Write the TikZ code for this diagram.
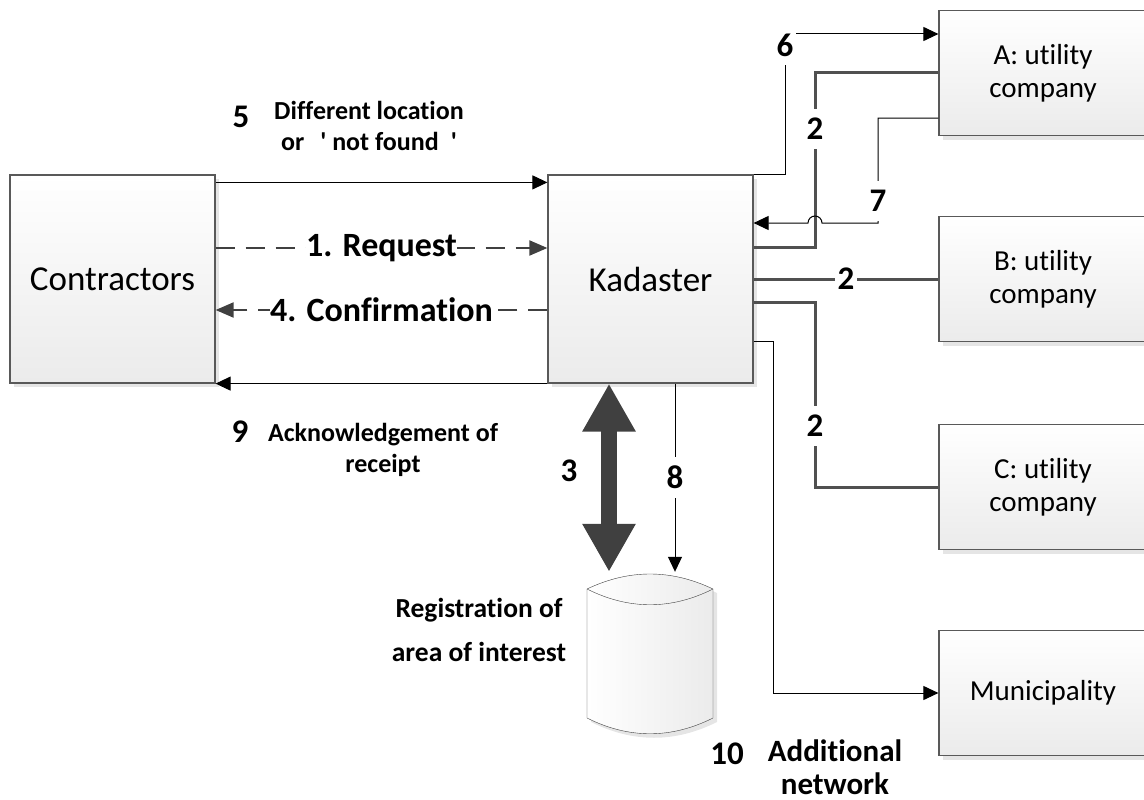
\documentclass[tikz,border=0pt]{standalone}
\usepackage{fontspec}
\setmainfont{Carlito}[Ligatures=NoCommon]
\usetikzlibrary{arrows.meta,shadows,positioning}
\definecolor{boxline}{HTML}{595959}
\definecolor{boxshade}{HTML}{EBEBEB}
\definecolor{linkgray}{HTML}{404040}
\definecolor{feedgray}{HTML}{505050}

\begin{document}
\begin{tikzpicture}[x=1pt,y=-1pt,
 box/.style={draw=boxline,line width=1.2pt,top color=white,bottom color=boxshade,
  drop shadow={shadow xshift=4pt,shadow yshift=-4pt,fill=black!10,opacity=1},align=center,inner sep=2pt},
 party/.style={box,minimum width=205pt,minimum height=208pt,font=\fontsize{35}{40}\selectfont},
 utility/.style={box,minimum width=208pt,minimum height=125pt,font=\fontsize{29}{33}\selectfont},
 num/.style={font=\bfseries\fontsize{33}{36}\selectfont,fill=white,inner xsep=3pt,inner ysep=9pt},
 note/.style={font=\bfseries\fontsize{26}{31}\selectfont,align=center},
 msglabel/.style={font=\bfseries\fontsize{34}{38}\selectfont,fill=white,inner sep=0.5pt},
 flow/.style={draw=black,line width=1pt,-{Triangle[length=15pt,width=14pt]}},
 msg/.style={draw=linkgray,line width=2pt,dash pattern=on 19pt off 11pt,-{Triangle[length=18pt,width=15pt]}},
 feed/.style={draw=feedgray,line width=3pt}]
\useasboundingbox (0,0) rectangle (1144,800);
\clip (0,0) rectangle (1144,800);
% parties
\node[party] (contractors) at (112.5,279) {Contractors};
\node[party] (kadaster) at (650.5,279) {Kadaster};
\node[utility] (compA) at (1043,73) {A: utility\\company};
\node[utility] (compB) at (1043,279) {B: utility\\company};
\node[utility] (compC) at (1043,487) {C: utility\\company};
\node[utility] (muni) at (1043,693) {Municipality};
% register of areas
\node[minimum width=126pt,minimum height=160pt,inner sep=0pt] (db) at (650,654) {};
\fill[black!10,shift={(4,4)}] (587,589) .. controls (629,569) and (671,569) .. (713,589) -- (713,718)
 .. controls (671,739) and (629,739) .. (587,718) -- cycle;
\path[draw=linkgray,left color=white,right color=boxshade] (587,589) .. controls (629,569) and (671,569) .. (713,589)
 -- (713,718) .. controls (671,739) and (629,739) .. (587,718) -- cycle;
\draw[linkgray] (587,589) .. controls (629,610) and (671,610) .. (713,589);
% labels
\node[num,fill=none] (n5) at (241,117) {5};
\node[note] (t5) at (369,126) {Different location\\or\hspace{16pt}\textquotesingle\ not found\hspace{12pt}\textquotesingle};
\node[num,fill=none] (n9) at (240,432) {9};
\node[note] (t9) at (383,450) {Acknowledgement of\\receipt};
\node[font=\bfseries\fontsize{27.5}{44}\selectfont,align=center] (treg) at (479,630) {Registration of\\area of interest};
\node[num,fill=none] (n10) at (727,754) {10};
\node[num,fill=none] (n3) at (569,471) {3};
\node[font=\bfseries\fontsize{31}{33}\selectfont,align=center] (t10) at (835,767) {Additional\\network};
% contractors and kadaster
\draw[flow] ([yshift=-8pt]contractors.north east) -- ([yshift=-8pt]kadaster.north west);
\draw[msg] ([yshift=31pt]contractors.east) -- node[msglabel]{1. Request} ([yshift=31pt]kadaster.west);
\draw[msg] ([yshift=-31pt]kadaster.west) -- node[msglabel]{4. Confirmation} ([yshift=-31pt]contractors.east);
\draw[flow] (kadaster.south west) -- (contractors.south east);
% kadaster and companies
\draw[flow] (kadaster.north east) -| (785,34) node[num,yshift=-11pt]{6} -- ([yshift=39pt]compA.west);
\draw[feed] ([yshift=32pt]kadaster.east) -| node[num,pos=0.84]{2} (815,73) -- (compA.west);
\draw[flow] ([yshift=-45pt]compA.west) -| (878,223) node[num,yshift=22pt]{7} -- (822,223)
 arc[start angle=0,end angle=180,radius=7pt] -- ([yshift=56pt]kadaster.east);
\draw[feed] (kadaster.east) -- node[num]{2} (compB.west);
\draw[feed] ([yshift=-23pt]kadaster.east) -| node[num,pos=0.835]{2} (815,487) -- (compC.west);
\draw[flow] ([yshift=-62pt]kadaster.east) -| (773,693) -- (muni.west);
% kadaster and register
\draw[draw=linkgray,line width=16pt,{Triangle[length=48pt,width=50pt]}-{Triangle[length=48pt,width=50pt]}]
 ([xshift=-41.5pt]kadaster.south) -- ([xshift=-41pt,yshift=2pt]db.north);
\draw[flow] ([xshift=24.5pt]kadaster.south) -- node[num]{8} ([xshift=25pt,yshift=2pt]db.north);
\end{tikzpicture}
\end{document}
